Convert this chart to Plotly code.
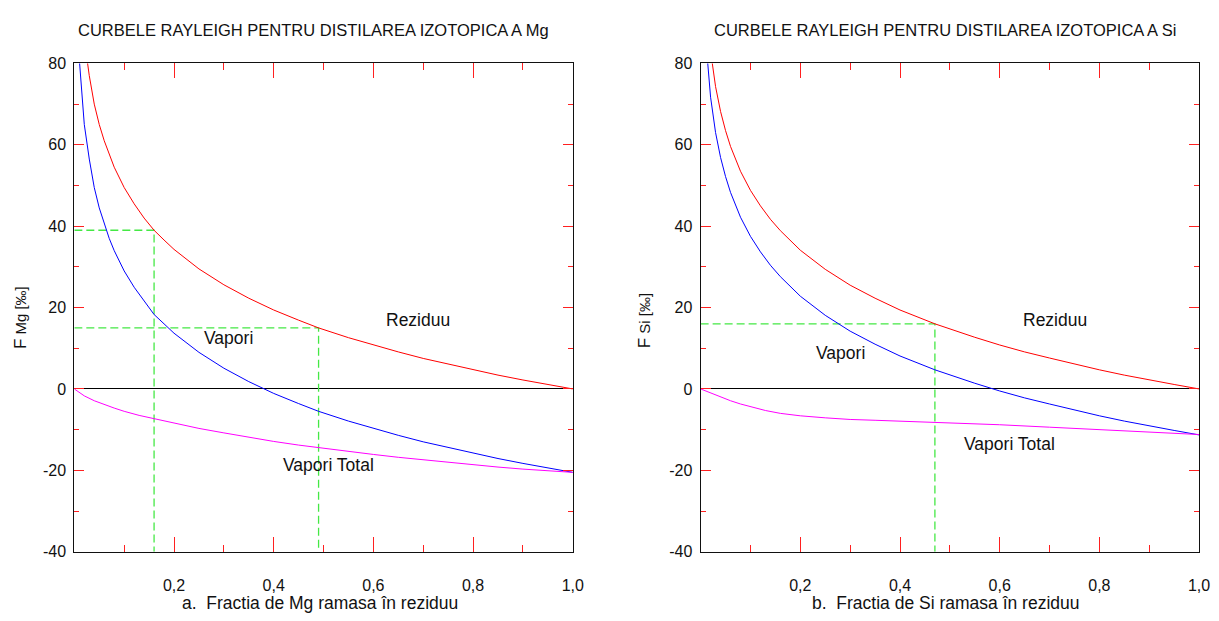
import plotly.graph_objects as go

# ---------------- data ----------------
# Mg panel
mg_res_f = [0.02, 0.03, 0.04, 0.05, 0.06, 0.07, 0.08, 0.10, 0.12, 0.14, 0.16, 0.18, 0.20, 0.25, 0.30,
            0.35, 0.40, 0.45, 0.49, 0.55, 0.60, 0.65, 0.70, 0.75, 0.80, 0.85, 0.90, 0.95, 1.00]
mg_res_v = [86, 77, 70, 65, 61, 57.5, 54.5, 49.5, 45.5, 42, 39, 36.6, 34.3, 29.5, 25.6,
            22.3, 19.4, 16.9, 15.0, 12.6, 10.8, 9.1, 7.5, 6.1, 4.7, 3.4, 2.2, 1.1, 0]
mg_vap_f = [0.01, 0.015, 0.02, 0.03, 0.04, 0.05, 0.06, 0.07, 0.08, 0.10, 0.12, 0.14, 0.16, 0.18, 0.20,
            0.25, 0.30, 0.35, 0.40, 0.45, 0.49, 0.55, 0.60, 0.65, 0.70, 0.75, 0.80, 0.85, 0.90, 0.95, 1.00]
mg_vap_v = [81, 72, 65, 56.5, 49.5, 44.5, 40.5, 37, 34, 29, 25, 21.5, 18.3, 16, 13.7,
            9, 5.1, 1.8, -1.1, -3.6, -5.5, -7.9, -9.7, -11.4, -13, -14.4, -15.8, -17.1, -18.3, -19.4, -20.5]
mg_tot_f = [0.0, 0.02, 0.04, 0.06, 0.08, 0.10, 0.13, 0.16, 0.20, 0.25, 0.30, 0.35, 0.40, 0.45, 0.50,
            0.55, 0.60, 0.65, 0.70, 0.75, 0.80, 0.85, 0.90, 0.95, 1.00]
mg_tot_v = [0, -1.7, -2.9, -3.9, -4.7, -5.5, -6.5, -7.3, -8.4, -9.7, -10.8, -11.9, -12.9, -13.8, -14.6,
            -15.4, -16.1, -16.8, -17.4, -18.0, -18.7, -19.2, -19.7, -20.1, -20.5]
mg_marks_f = [0.16, 0.49]
mg_marks_v = [39, 15]

# Si panel
si_res_f = [0.015, 0.02, 0.03, 0.04, 0.05, 0.06, 0.08, 0.10, 0.12, 0.14, 0.16, 0.18, 0.20, 0.25, 0.30,
            0.35, 0.40, 0.47, 0.50, 0.55, 0.60, 0.65, 0.70, 0.75, 0.80, 0.85, 0.90, 0.95, 1.00]
si_res_v = [89, 83, 74.3, 68.2, 63.5, 59.6, 53.5, 48.8, 45, 41.7, 38.9, 36.4, 34.1, 29.4, 25.5,
            22.3, 19.4, 16.0, 14.7, 12.7, 10.8, 9.1, 7.6, 6.1, 4.7, 3.4, 2.2, 1.1, 0]
si_vap_f = [0.01, 0.015, 0.02, 0.03, 0.04, 0.05, 0.06, 0.08, 0.10, 0.12, 0.14, 0.16, 0.18, 0.20, 0.25,
            0.30, 0.35, 0.40, 0.47, 0.50, 0.55, 0.60, 0.65, 0.70, 0.75, 0.80, 0.85, 0.90, 0.95, 1.00]
si_vap_v = [86.3, 77.7, 71.7, 63, 56.9, 52.2, 48.3, 42.2, 37.5, 33.7, 30.4, 27.6, 25.1, 22.8, 18.1,
            14.2, 11.0, 8.1, 4.7, 3.4, 1.4, -0.5, -2.2, -3.7, -5.2, -6.6, -7.9, -9.1, -10.2, -11.3]
si_tot_f = [0.0, 0.02, 0.04, 0.06, 0.08, 0.10, 0.13, 0.16, 0.20, 0.25, 0.30, 0.35, 0.40, 0.47, 0.55,
            0.60, 0.70, 0.80, 0.90, 1.00]
si_tot_v = [0, -1.0, -2.0, -2.9, -3.7, -4.4, -5.3, -6.0, -6.6, -7.1, -7.5, -7.7, -7.9, -8.1, -8.5,
            -8.8, -9.4, -10.0, -10.6, -11.2]
si_marks_f = [0.47]
si_marks_v = [16]

x_tickvals = [0.2, 0.4, 0.6, 0.8, 1.0]
x_ticktext = ["0,2", "0,4", "0,6", "0,8", "1,0"]
y_tickvals = [-40, -20, 0, 20, 40, 60, 80]
y_ticktext = ["-40", "-20", "0", "20", "40", "60", "80"]

titles = ["CURBELE RAYLEIGH PENTRU DISTILAREA IZOTOPICA A Mg",
          "CURBELE RAYLEIGH PENTRU DISTILAREA IZOTOPICA A Si"]
x_titles = ["a.  Fractia de Mg ramasa în reziduu", "b.  Fractia de Si ramasa în reziduu"]
y_titles = ["<span style='font-size:17px'>F</span> Mg [‰]", "<span style='font-size:17px'>F</span> Si [‰]"]
labels_mg = [("Reziduu", 0.69, 17), ("Vapori", 0.31, 12.6), ("Vapori Total", 0.51, -18.6)]
labels_si = [("Reziduu", 0.71, 17), ("Vapori", 0.28, 8.8), ("Vapori Total", 0.62, -13.5)]

# ---------------- figure ----------------
W, H = 1219, 621
FONT = "Liberation Sans, Arial, sans-serif"
fig = go.Figure()

panels = [
    dict(xa="x", ya="y", res=(mg_res_f, mg_res_v), vap=(mg_vap_f, mg_vap_v), tot=(mg_tot_f, mg_tot_v),
         marks=(mg_marks_f, mg_marks_v), labels=labels_mg),
    dict(xa="x2", ya="y2", res=(si_res_f, si_res_v), vap=(si_vap_f, si_vap_v), tot=(si_tot_f, si_tot_v),
         marks=(si_marks_f, si_marks_v), labels=labels_si),
]

green = "#44e844"
for p in panels:
    for fs, vs in zip(*p["marks"]):
        fig.add_trace(go.Scatter(x=[0, fs, fs], y=[vs, vs, -40], mode="lines",
                                 line=dict(color=green, width=1.3, dash="8px,4px"),
                                 xaxis=p["xa"], yaxis=p["ya"], showlegend=False, hoverinfo="skip"))
    fig.add_trace(go.Scatter(x=p["res"][0], y=p["res"][1], mode="lines", line=dict(color="#ff0000", width=1),
                             xaxis=p["xa"], yaxis=p["ya"], showlegend=False))
    fig.add_trace(go.Scatter(x=p["vap"][0], y=p["vap"][1], mode="lines", line=dict(color="#0000ff", width=1),
                             xaxis=p["xa"], yaxis=p["ya"], showlegend=False))
    fig.add_trace(go.Scatter(x=p["tot"][0], y=p["tot"][1], mode="lines", line=dict(color="#ff00ff", width=1),
                             xaxis=p["xa"], yaxis=p["ya"], showlegend=False))
    for txt, fx, fy in p["labels"]:
        fig.add_annotation(x=fx, y=fy, xref=p["xa"], yref=p["ya"], text=txt, showarrow=False,
                           xanchor="center", yanchor="middle",
                           font=dict(family=FONT, size=17.5, color="#111"))

x_domains = [[75 / W, 578 / W], [707 / W, 1210 / W]]
y_domain = [1 - 559 / H, 1 - 57 / H]

common_x = dict(range=[0, 1], showgrid=False, zeroline=False, showline=True, linecolor="#111", linewidth=1,
                mirror="ticks", ticks="inside", ticklen=15, tickcolor="#ff2020", tickwidth=1,
                tickmode="array", tickvals=x_tickvals, ticktext=x_ticktext,
                tickfont=dict(family=FONT, size=16, color="#111"), ticklabelstandoff=19,
                minor=dict(ticks="inside", ticklen=7, tickcolor="#ff2020", tickwidth=1, dtick=0.1, tick0=0,
                           showgrid=False))
common_y = dict(range=[-40, 80], showgrid=False, zeroline=True, zerolinecolor="#000", zerolinewidth=1,
                showline=True, linecolor="#111", linewidth=1, mirror="ticks", ticks="inside", ticklen=10,
                tickcolor="#ff2020", tickwidth=1, tickmode="array", tickvals=y_tickvals, ticktext=y_ticktext,
                tickfont=dict(family=FONT, size=16, color="#111"), ticklabelstandoff=4,
                minor=dict(ticks="inside", ticklen=5, tickcolor="#ff2020", tickwidth=1, dtick=10, tick0=0,
                           showgrid=False))

fig.update_layout(
    width=W, height=H, autosize=False, margin=dict(l=0, r=0, t=0, b=0),
    paper_bgcolor="white", plot_bgcolor="white", showlegend=False,
    font=dict(family=FONT, size=15, color="#111"),
    xaxis=dict(domain=x_domains[0], anchor="y", **common_x),
    yaxis=dict(domain=y_domain, anchor="x", **common_y),
    xaxis2=dict(domain=x_domains[1], anchor="y2", **common_x),
    yaxis2=dict(domain=y_domain, anchor="x2", **common_y),
)

# titles and axis titles
title_x = [316 / W, 954 / W]
for i in range(2):
    fig.add_annotation(x=title_x[i], y=1 - 23 / H, xref="paper", yref="paper", text=titles[i],
                       xanchor="center", yanchor="middle", showarrow=False,
                       font=dict(family=FONT, size=16.5, color="#111"))
    fig.add_annotation(x=(x_domains[i][0] + x_domains[i][1]) / 2 - 4 / W, y=1 - 612 / H, xref="paper",
                       yref="paper", text=x_titles[i], xanchor="center", yanchor="middle", showarrow=False,
                       borderpad=0, font=dict(family=FONT, size=17.5, color="#111"))
ytitle_pos = [(20 / W, 1 - 318 / H), (650 / W, 1 - 322 / H)]
for i in range(2):
    fig.add_annotation(x=ytitle_pos[i][0], y=ytitle_pos[i][1], xref="paper", yref="paper", text=y_titles[i],
                       xanchor="center", yanchor="middle",
                       textangle=-90, showarrow=False, font=dict(family=FONT, size=15, color="#111"))

fig.write_html("out.html")
